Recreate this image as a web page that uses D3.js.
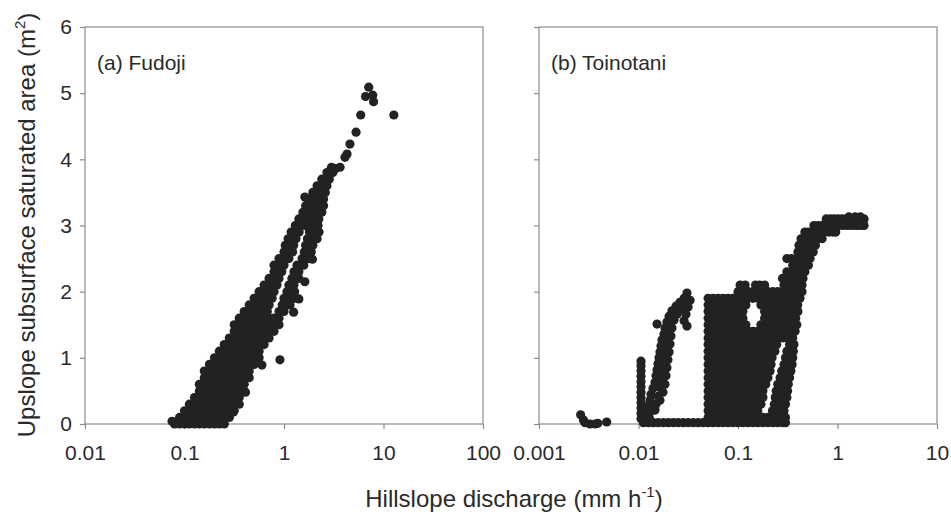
<!DOCTYPE html>
<html><head><meta charset="utf-8">
<script src="https://cdn.jsdelivr.net/npm/d3@7"></script>
<style>
body{margin:0;background:#fff}
svg{display:block}
text{font-family:"Liberation Sans",Arial,sans-serif;fill:#2a2a2a}
</style>
</head><body>
<svg id="chart" width="951" height="514"></svg>
<script>
// ---------- axis / label data ----------
const yTicks = [0, 1, 2, 3, 4, 5, 6];
const xTicksA = [0.01, 0.1, 1, 10, 100];
const xTickLabelsA = ["0.01", "0.1", "1", "10", "100"];
const xTicksB = [0.001, 0.01, 0.1, 1, 10];
const xTickLabelsB = ["0.001", "0.01", "0.1", "1", "10"];
const panelTitles = ["(a) Fudoji", "(b) Toinotani"];
const yTitle = ["Upslope subsurface saturated area (m", "2", ")"];
const xTitle = ["Hillslope discharge (mm h", "-1", ")"];

// ---------- (a) Fudoji : [area, [discharge values read along that level]] ----------
const fudojiRows = [
  [0.0, [0.0794, 0.0891, 0.1, 0.112, 0.126, 0.141, 0.158, 0.178, 0.2, 0.224, 0.251]],
  [0.1, [0.0891, 0.1, 0.112, 0.126, 0.141, 0.158, 0.178, 0.2, 0.224, 0.251, 0.282]],
  [0.2, [0.1, 0.112, 0.126, 0.141, 0.158, 0.178, 0.2, 0.224, 0.251, 0.282, 0.316]],
  [0.3, [0.112, 0.126, 0.141, 0.158, 0.178, 0.2, 0.224, 0.251, 0.282, 0.316, 0.355]],
  [0.4, [0.126, 0.141, 0.158, 0.178, 0.2, 0.224, 0.251, 0.282, 0.316, 0.355]],
  [0.5, [0.141, 0.158, 0.178, 0.2, 0.224, 0.251, 0.282, 0.316, 0.355, 0.398]],
  [0.6, [0.141, 0.158, 0.178, 0.2, 0.224, 0.251, 0.282, 0.316, 0.355, 0.398]],
  [0.7, [0.158, 0.178, 0.2, 0.224, 0.251, 0.282, 0.316, 0.355, 0.398, 0.447]],
  [0.8, [0.158, 0.178, 0.2, 0.224, 0.251, 0.282, 0.316, 0.355, 0.398, 0.447]],
  [0.9, [0.178, 0.2, 0.224, 0.251, 0.282, 0.316, 0.355, 0.398, 0.447, 0.501]],
  [1.0, [0.2, 0.224, 0.251, 0.282, 0.316, 0.355, 0.398, 0.447, 0.501, 0.562]],
  [1.1, [0.224, 0.251, 0.282, 0.316, 0.355, 0.398, 0.447, 0.501, 0.562]],
  [1.2, [0.251, 0.282, 0.316, 0.355, 0.398, 0.447, 0.501, 0.562, 0.631]],
  [1.3, [0.282, 0.316, 0.355, 0.398, 0.447, 0.501, 0.562, 0.631, 0.708]],
  [1.4, [0.316, 0.355, 0.398, 0.447, 0.501, 0.562, 0.631, 0.708, 0.794]],
  [1.5, [0.316, 0.355, 0.398, 0.447, 0.501, 0.562, 0.631, 0.708, 0.794, 0.891]],
  [1.6, [0.355, 0.398, 0.447, 0.501, 0.562, 0.631, 0.708, 0.794, 0.891]],
  [1.7, [0.398, 0.447, 0.501, 0.562, 0.631, 0.68, 0.891, 1.0]],
  [1.8, [0.447, 0.501, 0.562, 0.631, 0.708, 0.96, 1.07, 1.15]],
  [1.9, [0.501, 0.562, 0.631, 0.708, 0.76, 1.0, 1.12, 1.26]],
  [2.0, [0.562, 0.631, 0.708, 0.794, 1.07, 1.18, 1.28]],
  [2.1, [0.631, 0.708, 0.794, 0.85, 1.12, 1.26]],
  [2.2, [0.708, 0.794, 0.891, 1.2, 1.3, 1.41]],
  [2.3, [0.794, 0.891, 0.95, 1.26, 1.41]],
  [2.4, [0.794, 0.891, 1.0, 1.35, 1.47, 1.58]],
  [2.5, [0.891, 1.0, 1.12, 1.52, 1.65, 1.78]],
  [2.6, [1.0, 1.12, 1.22, 1.6, 1.74, 1.88]],
  [2.7, [1.03, 1.13, 1.25, 1.65, 1.8, 1.95]],
  [2.8, [1.1, 1.2, 1.32, 1.72, 1.88, 2.05, 2.15]],
  [2.9, [1.18, 1.3, 1.42, 1.8, 1.98, 2.15, 2.25]],
  [3.0, [1.3, 1.45, 1.62, 1.8, 2.0, 2.2]],
  [3.1, [1.41, 1.58, 1.78, 2.0, 2.24]],
  [3.2, [1.55, 1.75, 1.95, 2.2, 2.4]],
  [3.3, [1.65, 1.85, 2.07, 2.3, 2.5]],
  [3.4, [1.78, 2.0, 2.24, 2.5]],
  [3.5, [1.95, 2.2, 2.45, 2.6]],
  [3.6, [2.15, 2.4, 2.7]],
  [3.7, [2.4, 2.65, 2.85]],
  [3.8, [2.7, 2.95, 3.1]]
];
// isolated points [discharge, area]
const fudojiSingles = [
  [0.075, 0.04], [0.085, 0.01], [0.31, 0.18], [0.41, 0.48], [0.6, 0.89], [0.91, 0.97],
  [1.25, 1.69], [1.41, 1.89], [1.62, 2.15], [1.93, 2.49], [1.62, 3.43],
  [3.0, 3.88], [3.3, 3.86], [3.66, 3.88], [4.1, 4.03], [4.3, 4.08], [4.6, 4.23],
  [5.3, 4.41], [5.9, 4.67], [6.6, 4.95], [7.1, 5.09], [7.8, 4.97], [7.95, 4.87], [12.7, 4.67]
];

// ---------- (b) Toinotani ----------
const toinotaniRows = [
  [0.02, [0.0112, 0.0126, 0.0141, 0.0158, 0.0178, 0.02, 0.0224, 0.0251, 0.0282, 0.0316, 0.0355, 0.0398, 0.0447, 0.0501, 0.0562, 0.0631, 0.0708, 0.0794, 0.0891, 0.1, 0.112, 0.126, 0.141, 0.158, 0.178, 0.2, 0.224, 0.251, 0.282, 0.3]],
  [0.1, [0.0501, 0.0562, 0.0631, 0.0708, 0.0794, 0.0891, 0.1, 0.112, 0.126, 0.141, 0.158, 0.178, 0.2, 0.224, 0.251, 0.282, 0.3]],
  [0.2, [0.0501, 0.0562, 0.0631, 0.0708, 0.0794, 0.0891, 0.1, 0.112, 0.126, 0.141, 0.158, 0.222, 0.255, 0.29]],
  [0.3, [0.0501, 0.0562, 0.0631, 0.0708, 0.0794, 0.0891, 0.1, 0.112, 0.126, 0.141, 0.158, 0.17, 0.232, 0.265, 0.3]],
  [0.4, [0.0501, 0.0562, 0.0631, 0.0708, 0.0794, 0.0891, 0.1, 0.112, 0.126, 0.141, 0.158, 0.178, 0.237, 0.27, 0.31]],
  [0.5, [0.0501, 0.0562, 0.0631, 0.0708, 0.0794, 0.0891, 0.1, 0.112, 0.126, 0.141, 0.158, 0.178, 0.242, 0.275, 0.315]],
  [0.6, [0.0501, 0.0562, 0.0631, 0.0708, 0.0794, 0.0891, 0.1, 0.112, 0.126, 0.141, 0.158, 0.178, 0.19, 0.251, 0.285, 0.32]],
  [0.7, [0.0501, 0.0562, 0.0631, 0.0708, 0.0794, 0.0891, 0.1, 0.112, 0.126, 0.141, 0.158, 0.178, 0.2, 0.265, 0.295, 0.33]],
  [0.8, [0.0501, 0.0562, 0.0631, 0.0708, 0.0794, 0.0891, 0.1, 0.112, 0.126, 0.141, 0.158, 0.178, 0.2, 0.21, 0.275, 0.305, 0.34]],
  [0.9, [0.0501, 0.0562, 0.0631, 0.0708, 0.0794, 0.0891, 0.1, 0.112, 0.126, 0.141, 0.158, 0.178, 0.2, 0.215, 0.29, 0.32, 0.35]],
  [1.0, [0.0501, 0.0562, 0.0631, 0.0708, 0.0794, 0.0891, 0.1, 0.112, 0.126, 0.141, 0.158, 0.178, 0.2, 0.22, 0.3, 0.33, 0.355]],
  [1.1, [0.0501, 0.0562, 0.0631, 0.0708, 0.0794, 0.0891, 0.1, 0.112, 0.126, 0.141, 0.158, 0.178, 0.2, 0.235, 0.31, 0.34, 0.36]],
  [1.2, [0.0501, 0.0562, 0.0631, 0.0708, 0.0794, 0.0891, 0.1, 0.112, 0.126, 0.141, 0.158, 0.178, 0.2, 0.224, 0.245, 0.33, 0.365]],
  [1.3, [0.0501, 0.0562, 0.0631, 0.0708, 0.0794, 0.0891, 0.1, 0.112, 0.126, 0.141, 0.158, 0.178, 0.2, 0.224, 0.251, 0.282, 0.316, 0.355]],
  [1.4, [0.0501, 0.0562, 0.0631, 0.0708, 0.0794, 0.0891, 0.1, 0.112, 0.126, 0.141, 0.158, 0.178, 0.2, 0.224, 0.251, 0.282, 0.316, 0.355, 0.375]],
  [1.5, [0.0501, 0.0562, 0.0631, 0.0708, 0.0794, 0.0891, 0.1, 0.112, 0.12, 0.17, 0.2, 0.224, 0.251, 0.282, 0.316, 0.355, 0.39]],
  [1.6, [0.0501, 0.0562, 0.0631, 0.0708, 0.0794, 0.0891, 0.1, 0.112, 0.185, 0.215, 0.24, 0.27, 0.3, 0.335, 0.38]],
  [1.7, [0.0501, 0.0562, 0.0631, 0.0708, 0.0794, 0.0891, 0.1, 0.112, 0.185, 0.215, 0.24, 0.27, 0.3, 0.335, 0.375, 0.4]],
  [1.8, [0.0501, 0.0562, 0.0631, 0.0708, 0.0794, 0.0891, 0.1, 0.112, 0.12, 0.17, 0.2, 0.224, 0.251, 0.282, 0.316, 0.355, 0.398]],
  [1.9, [0.0501, 0.0562, 0.0631, 0.0708, 0.0794, 0.0891, 0.1, 0.112, 0.126, 0.141, 0.158, 0.178, 0.2, 0.224, 0.251, 0.282, 0.316, 0.355, 0.398, 0.42]],
  [2.0, [0.1, 0.112, 0.126, 0.141, 0.158, 0.178, 0.2, 0.224, 0.251, 0.282, 0.316, 0.355, 0.398, 0.44]],
  [2.1, [0.105, 0.118, 0.15, 0.165, 0.185, 0.29, 0.32, 0.355, 0.4, 0.44]],
  [2.2, [0.28, 0.325, 0.36, 0.4, 0.45]],
  [2.3, [0.31, 0.345, 0.38, 0.42, 0.47]],
  [2.4, [0.355, 0.39, 0.43, 0.47, 0.51]],
  [2.5, [0.31, 0.345, 0.39, 0.43, 0.48, 0.53]],
  [2.6, [0.4, 0.43, 0.47, 0.52, 0.57]],
  [2.7, [0.41, 0.45, 0.5, 0.55, 0.6]],
  [2.8, [0.43, 0.47, 0.52, 0.57, 0.63, 0.7]],
  [2.9, [0.47, 0.51, 0.56, 0.62, 0.68, 0.75, 0.82, 0.9, 0.96]],
  [3.0, [0.58, 0.64, 0.7, 0.77, 0.85, 0.93, 1.02, 1.12, 1.23, 1.35, 1.47, 1.6, 1.75, 1.85]],
  [3.1, [0.77, 0.85, 0.93, 1.02, 1.12, 1.23, 1.35, 1.47, 1.6, 1.75, 1.85]],
  [3.13, [1.3, 1.5, 1.7]]
];
// vertical run at ~0.01 mm/h : [discharge, area]
const toinotaniColumn = [
  [0.0106, 0.08], [0.0106, 0.16], [0.0106, 0.24], [0.0106, 0.32], [0.0106, 0.40], [0.0106, 0.48],
  [0.0106, 0.56], [0.0106, 0.64], [0.0106, 0.72], [0.0106, 0.80], [0.0106, 0.88], [0.0106, 0.95]
];
// the rising loop between 0.01 and 0.035 mm/h
const toinotaniLoop = [
  [0.0116, 0.09], [0.01216, 0.18], [0.01245, 0.27], [0.01306, 0.36], [0.01336, 0.45], [0.014, 0.54],
  [0.01466, 0.63], [0.015, 0.73], [0.01535, 0.82], [0.0157, 0.91], [0.01607, 1.0], [0.01644, 1.09],
  [0.01683, 1.18], [0.0172, 1.27], [0.01803, 1.36], [0.01845, 1.45], [0.0193, 1.54], [0.0203, 1.63],
  [0.0217, 1.71], [0.0238, 1.78], [0.0261, 1.84], [0.0287, 1.9], [0.0307, 1.98],
  [0.0322, 1.87], [0.0315, 1.77], [0.03, 1.66], [0.0287, 1.56], [0.0307, 1.48],
  [0.0128, 0.1], [0.01466, 0.21], [0.01644, 0.36], [0.0176, 0.48], [0.01845, 0.6], [0.0189, 0.73],
  [0.0193, 0.85], [0.01977, 0.97], [0.0203, 1.09], [0.02074, 1.21], [0.0212, 1.33], [0.0217, 1.45],
  [0.02275, 1.57], [0.0244, 1.66], [0.0267, 1.74], [0.0293, 1.8], [0.033, 1.87],
  [0.0135, 0.2], [0.015, 0.3], [0.0158, 0.42], [0.0165, 0.55], [0.0171, 0.68], [0.0175, 0.8],
  [0.0179, 0.93], [0.0184, 1.05], [0.0188, 1.18], [0.0194, 1.3], [0.0201, 1.42], [0.021, 1.55],
  [0.01535, 1.51]
];
const toinotaniSingles = [
  [0.00262, 0.14], [0.0028, 0.06], [0.0029, 0.02], [0.00326, 0.0], [0.00366, 0.0], [0.0039, 0.01], [0.00479, 0.03]
];

// ---------- drawing ----------
const svg = d3.select("#chart");
const frameColor = "#8c8c8c";
const dotColor = "#222";
const y = d3.scaleLinear().domain([0, 6]).range([424, 27]);

const panels = [
  { x: d3.scaleLog().domain([0.01, 100]).range([85, 483]), ticks: xTicksA, labels: xTickLabelsA,
    title: panelTitles[0], rows: fudojiRows, extra: [fudojiSingles], yLabels: true },
  { x: d3.scaleLog().domain([0.001, 10]).range([539, 937]), ticks: xTicksB, labels: xTickLabelsB,
    title: panelTitles[1], rows: toinotaniRows, extra: [toinotaniColumn, toinotaniLoop, toinotaniSingles], yLabels: false }
];

panels.forEach(p => {
  const g = svg.append("g");
  const [x0, x1] = p.x.range();
  const [yb, yt] = y.range();

  g.append("rect")
    .attr("x", x0).attr("y", yt).attr("width", x1 - x0).attr("height", yb - yt)
    .attr("fill", "none").attr("stroke", frameColor).attr("stroke-width", 1.2);

  const xAxis = g.append("g").attr("transform", `translate(0,${yb})`)
    .call(d3.axisBottom(p.x).tickValues(p.ticks).tickFormat((d, i) => p.labels[i]).tickSize(5).tickPadding(16));
  const yAxis = g.append("g").attr("transform", `translate(${x0},0)`)
    .call(d3.axisLeft(y).tickValues(yTicks).tickFormat(p.yLabels ? d3.format("d") : () => "").tickSize(5).tickPadding(8));
  [xAxis, yAxis].forEach(a => {
    a.select(".domain").remove();
    a.selectAll(".tick line").attr("stroke", frameColor).attr("stroke-width", 1.2);
    a.selectAll(".tick text").attr("font-size", 21).attr("fill", "#2a2a2a")
      .attr("font-family", "'Liberation Sans', Arial, sans-serif");
  });

  const pts = [];
  p.rows.forEach(([area, qs]) => qs.forEach(q => pts.push([q, area])));
  p.extra.forEach(list => list.forEach(d => pts.push(d)));

  g.append("g").selectAll("circle").data(pts).join("circle")
    .attr("cx", d => p.x(d[0])).attr("cy", d => y(d[1]))
    .attr("r", 4.6).attr("fill", dotColor);

  g.append("text").attr("x", x0 + 12).attr("y", 70)
    .attr("font-size", 21).text(p.title);
});

// axis titles
const yt = svg.append("text").attr("transform", "translate(35,225) rotate(-90)")
  .attr("text-anchor", "middle").attr("font-size", 24);
yt.append("tspan").text(yTitle[0]);
yt.append("tspan").attr("font-size", 15).attr("dy", -10).text(yTitle[1]);
yt.append("tspan").attr("font-size", 24).attr("dy", 10).text(yTitle[2]);

const xt = svg.append("text").attr("x", 514).attr("y", 507)
  .attr("text-anchor", "middle").attr("font-size", 24);
xt.append("tspan").text(xTitle[0]);
xt.append("tspan").attr("font-size", 15).attr("dy", -10).text(xTitle[1]);
xt.append("tspan").attr("font-size", 24).attr("dy", 10).text(xTitle[2]);
</script>
</body></html>
